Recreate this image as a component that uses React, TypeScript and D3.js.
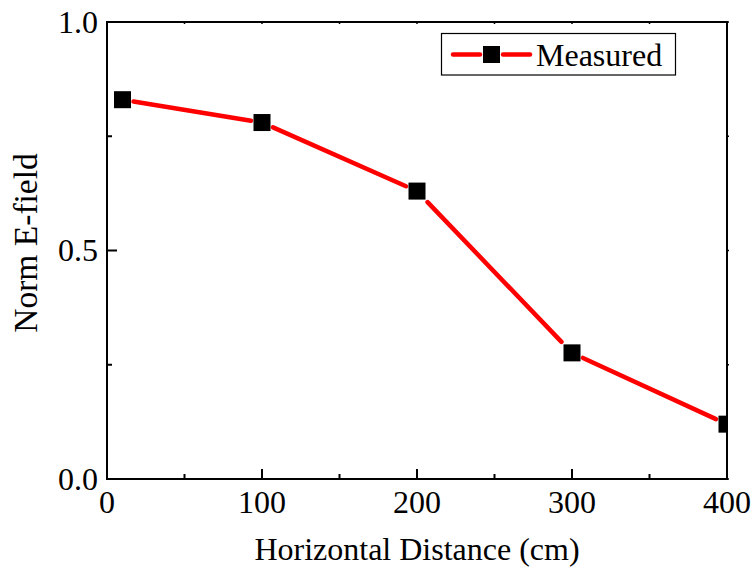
import React from "react";
import * as d3 from "d3";

const distances = [10, 100, 200, 300, 400];
const efield = [0.83, 0.78, 0.63, 0.276, 0.12];
const xTicks = [0, 100, 200, 300, 400];
const xMinor = [50, 150, 250, 350];
const yTicks = [0, 0.5, 1.0];
const yMinor = [0.25, 0.75];
const seriesName = "Measured";
const xTitle = "Horizontal Distance (cm)";
const yTitle = "Norm E-field";

const W = 753;
const H = 569;
const L = 107, R = 727, T = 22, B = 479;
const FONT = "'Liberation Serif', 'Times New Roman', serif";

export default function App() {
  const x = d3.scaleLinear().domain([0, 400]).range([L, R]);
  const y = d3.scaleLinear().domain([0, 1]).range([B, T]);
  const pts = distances.map((d, i) => [x(d), y(efield[i])] as [number, number]);
  const half = 8.5;
  const gap = 11;
  const segs: [number, number, number, number][] = [];
  for (let i = 0; i < pts.length - 1; i++) {
    const [x0, y0] = pts[i];
    const [x1, y1] = pts[i + 1];
    const dx = x1 - x0, dy = y1 - y0;
    const len = Math.hypot(dx, dy);
    const ux = dx / len, uy = dy / len;
    const s = gap / Math.max(Math.abs(ux), Math.abs(uy));
    segs.push([x0 + ux * s, y0 + uy * s, x1 - ux * s, y1 - uy * s]);
  }
  const fmtY = d3.format(".1f");
  return (
    <svg width={W} height={H} style={{ position: "absolute", left: 0, top: 0 }} fontFamily={FONT}>
      <rect x={0} y={0} width={W} height={H} fill="white" />
      <defs>
        <clipPath id="plotclip">
          <rect x={L} y={T - 10} width={R - L - 1} height={B - T + 20} />
        </clipPath>
      </defs>
      {/* data line */}
      <g stroke="#ff0000" strokeWidth={4.5} strokeLinecap="round">
        {segs.map((s, i) => (
          <line key={i} x1={s[0]} y1={s[1]} x2={s[2]} y2={s[3]} />
        ))}
      </g>
      <g clipPath="url(#plotclip)">
        {pts.map((p, i) => (
          <rect key={i} x={p[0] - half} y={p[1] - half} width={half * 2} height={half * 2} fill="black" />
        ))}
      </g>
      {/* frame */}
      <rect x={L} y={T} width={R - L} height={B - T} fill="none" stroke="black" strokeWidth={2} />
      {/* ticks */}
      <g stroke="black" strokeWidth={2}>
        {xTicks.map((t) => (
          <line key={"xb" + t} x1={x(t)} x2={x(t)} y1={B} y2={B - 10} />
        ))}
        {xMinor.map((t) => (
          <line key={"xm" + t} x1={x(t)} x2={x(t)} y1={B} y2={B - 5} />
        ))}
        {xTicks.concat(xMinor).map((t) => (
          <line key={"xt" + t} x1={x(t)} x2={x(t)} y1={T} y2={T + 2} strokeWidth={1.5} />
        ))}
        {yTicks.map((t) => (
          <line key={"yl" + t} x1={L} x2={L + 10} y1={y(t)} y2={y(t)} />
        ))}
        {yMinor.map((t) => (
          <line key={"ym" + t} x1={L} x2={L + 5} y1={y(t)} y2={y(t)} />
        ))}
        {yTicks.concat(yMinor).map((t) => (
          <line key={"yr" + t} x1={R} x2={R + 2} y1={y(t)} y2={y(t)} strokeWidth={1.5} />
        ))}
      </g>
      {/* tick labels */}
      <g fontSize={32} fill="black">
        {xTicks.map((t) => (
          <text key={"lx" + t} x={x(t)} y={B + 34} textAnchor="middle">
            {t}
          </text>
        ))}
        {yTicks.map((t) => (
          <text key={"ly" + t} x={L - 9} y={y(t)} dy="0.33em" textAnchor="end">
            {fmtY(t)}
          </text>
        ))}
      </g>
      {/* axis titles */}
      <text x={(L + R) / 2} y={560} fontSize={32} textAnchor="middle" fill="black">
        {xTitle}
      </text>
      <text
        transform={`translate(37, 243) rotate(-90)`}
        fontSize={33.5}
        textAnchor="middle"
        fill="black"
      >
        {yTitle}
      </text>
      {/* legend */}
      <g>
        <rect x={441.5} y={33.5} width={234} height={41.5} fill="white" stroke="black" strokeWidth={1.2} />
        <line x1={453} y1={54.5} x2={480} y2={54.5} stroke="#ff0000" strokeWidth={4.5} strokeLinecap="round" />
        <line x1={503} y1={54.5} x2={530} y2={54.5} stroke="#ff0000" strokeWidth={4.5} strokeLinecap="round" />
        <rect x={491.5 - half} y={54.5 - half} width={half * 2} height={half * 2} fill="black" />
        <text x={536} y={65.5} fontSize={32} fill="black">
          {seriesName}
        </text>
      </g>
    </svg>
  );
}
